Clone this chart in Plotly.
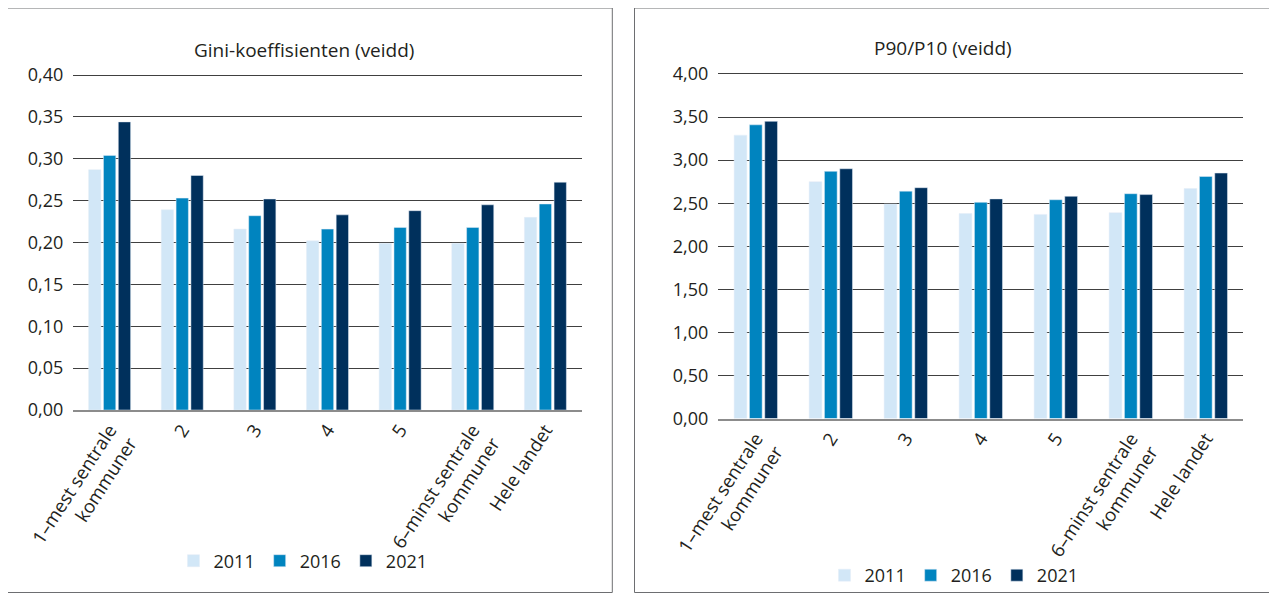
import plotly.graph_objects as go

categories = ["1–mest sentrale<br>kommuner", "2", "3", "4", "5", "6–minst sentrale<br>kommuner", "Hele landet"]
years = ["2011", "2016", "2021"]
colors = ["#d2e7f7", "#0084bf", "#00305c"]

gini_2011 = [0.287, 0.239, 0.216, 0.202, 0.199, 0.199, 0.230]
gini_2016 = [0.304, 0.253, 0.232, 0.216, 0.218, 0.218, 0.246]
gini_2021 = [0.344, 0.280, 0.252, 0.233, 0.238, 0.245, 0.272]

p9010_2011 = [3.29, 2.75, 2.49, 2.38, 2.37, 2.39, 2.67]
p9010_2016 = [3.41, 2.87, 2.64, 2.51, 2.54, 2.61, 2.81]
p9010_2021 = [3.45, 2.90, 2.68, 2.55, 2.58, 2.60, 2.85]

gini_ticks = [0.0, 0.05, 0.10, 0.15, 0.20, 0.25, 0.30, 0.35, 0.40]
p_ticks = [0.0, 0.5, 1.0, 1.5, 2.0, 2.5, 3.0, 3.5, 4.0]

OFF = 8  # page body margin
W, H = 1277 - OFF, 595 - OFF
FONT = "Open Sans"
TXT = "#231f20"

fig = go.Figure()
for yr, vals, c in zip(years, [gini_2011, gini_2016, gini_2021], colors):
    fig.add_trace(go.Bar(x=categories, y=vals, name=yr, marker_color=c,
                         xaxis="x", yaxis="y", legend="legend"))
for yr, vals, c in zip(years, [p9010_2011, p9010_2016, p9010_2021], colors):
    fig.add_trace(go.Bar(x=categories, y=vals, name=yr, marker_color=c,
                         xaxis="x2", yaxis="y2", legend="legend2"))

def px(x):
    return (x - OFF) / W

def py(y):
    return 1 - (y - OFF) / H

xcommon = dict(tickangle=-57, tickfont=dict(size=18.5, color=TXT, family=FONT),
               showgrid=False, showline=True, linecolor="#8c8c8c", linewidth=2,
               automargin=False, ticks="", fixedrange=True, range=[-0.5, 6.5])
ycommon = dict(tickfont=dict(size=18, color=TXT, family=FONT), showgrid=True,
               gridcolor="#404040", gridwidth=1, zeroline=False, showline=False,
               tickformat=".2f", automargin=False, ticks="", ticklabelstandoff=9)

g_top = 0.4015
p_top = 4.015
g_y0, g_y4 = 410.0, 75.0
p_y0, p_y4 = 418.5, 74.0
g_top_px = g_y0 - (g_y0 - g_y4) * g_top / 0.40
p_top_px = p_y0 - (p_y0 - p_y4) * p_top / 4.0

fig.update_layout(
    width=W, height=H,
    margin=dict(l=0, r=0, t=0, b=0),
    paper_bgcolor="white", plot_bgcolor="white",
    separators=", ",
    barmode="group", bargap=0.387, bargroupgap=0.17,
    font=dict(family=FONT, color=TXT),
    xaxis=dict(domain=[px(73.3), px(581.7)], anchor="y", **xcommon),
    yaxis=dict(domain=[py(g_y0), py(g_top_px)], anchor="x", range=[0, g_top],
               tickvals=gini_ticks, **ycommon),
    xaxis2=dict(domain=[px(718.3), px(1243.3)], anchor="y2", **xcommon),
    yaxis2=dict(domain=[py(p_y0), py(p_top_px)], anchor="x2", range=[0, p_top],
                tickvals=p_ticks, **ycommon),
    legend=dict(orientation="h", x=px(303), y=py(561), xanchor="center", yanchor="middle",
                font=dict(size=18, color=TXT, family=FONT), bgcolor="rgba(0,0,0,0)"),
    legend2=dict(orientation="h", x=px(954), y=py(575.5), xanchor="center", yanchor="middle",
                 font=dict(size=18, color=TXT, family=FONT), bgcolor="rgba(0,0,0,0)"),
    showlegend=True,
)

fig.add_annotation(text="Gini-koeffisienten (veidd)", x=px(304), y=py(50), xref="paper", yref="paper",
                   showarrow=False, font=dict(size=19, color=TXT, family=FONT),
                   xanchor="center", yanchor="middle")
fig.add_annotation(text="P90/P10 (veidd)", x=px(943), y=py(48), xref="paper", yref="paper",
                   showarrow=False, font=dict(size=19, color=TXT, family=FONT),
                   xanchor="center", yanchor="middle")

fig.add_shape(type="rect", xref="paper", yref="paper", x0=px(7.5), x1=px(612.3), y0=py(592.5), y1=py(8),
              line=dict(color="#6d6e71", width=1), fillcolor="rgba(0,0,0,0)", layer="below")
fig.add_shape(type="rect", xref="paper", yref="paper", x0=px(634.5), x1=px(1274.5), y0=py(592.5), y1=py(8),
              line=dict(color="#6d6e71", width=1), fillcolor="rgba(0,0,0,0)", layer="below")

fig.write_html("out.html")
